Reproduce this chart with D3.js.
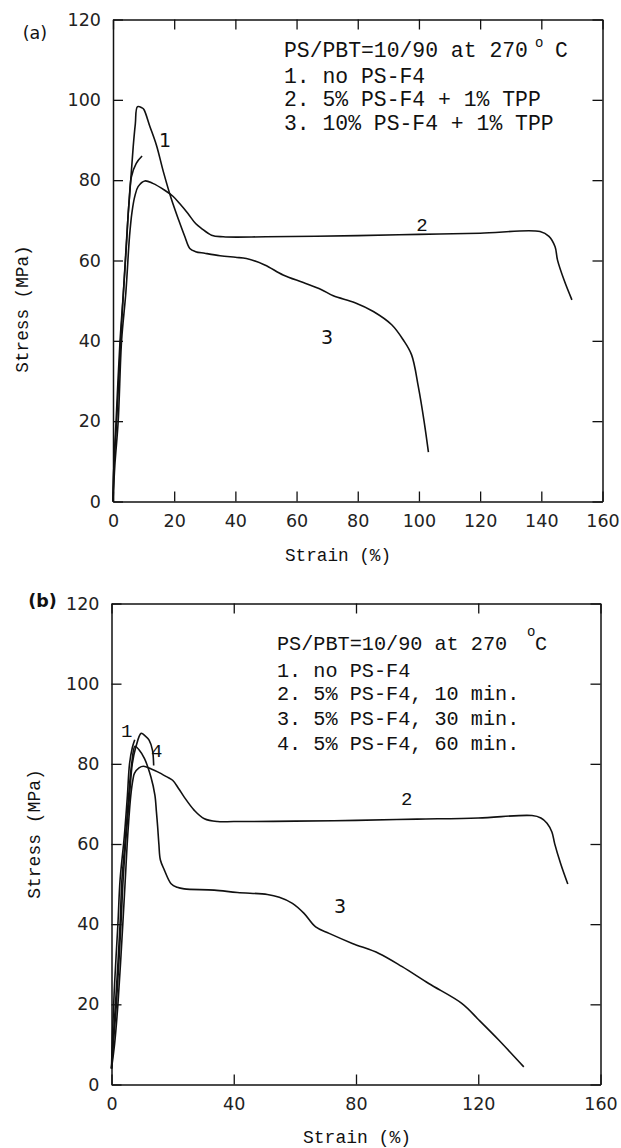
<!DOCTYPE html>
<html>
<head>
<meta charset="utf-8">
<script src="https://cdn.jsdelivr.net/npm/d3@7"></script>
<style>
  html, body { margin: 0; padding: 0; background: #fff; }
  svg { display: block; }
</style>
</head>
<body>
<svg id="chart" width="621" height="1148"></svg>
<script>
// ---------- data (strain %, stress MPa) ----------
const curveA1 = [[0,0],[0.3,9],[1.2,20],[2.5,40],[3.4,52],[4.5,66],[5.3,75],[6.0,80.8],[7.6,84.2],[9.5,86]];
const curveA2 = [[0,0],[0.6,9],[1.7,20],[2.8,40],[4.2,52],[5.4,66],[6.2,72],[7.1,75.9],[8.2,78.4],[10.4,79.8],[13,79.2],[16.9,77.5],[19.6,76],[22,74],[24.5,71.7],[27,69.2],[28.9,68],[32.2,66.3],[36,65.9],[50,65.9],[80,66.2],[100,66.5],[120,66.8],[139.6,67.2],[142.5,66],[144.5,63.4],[145.3,60.1],[147.5,55],[150,50.2]];
const curveA3 = [[0,0],[0.3,9],[1.0,20],[2.3,40],[3.4,52],[4.4,64],[5.0,72],[5.8,80],[6.6,88.3],[7.3,94],[8.0,98.3],[9.5,98],[10.1,97.6],[12,93.5],[14.2,88.7],[16.5,82],[19,75.5],[21.5,70],[23.5,65.9],[25.1,63],[27,62.2],[30,61.8],[35,61.2],[40,60.8],[43.6,60.5],[49.6,58.9],[55.6,56.4],[62.2,54.5],[68,52.8],[72,51.2],[79.1,49.5],[85.1,47.3],[91.1,44],[94.9,40.2],[97.6,36.5],[99.8,28.6],[101.7,19.9],[103.1,12.3]];

const curveB1 = [[0,4],[0.3,12],[1.0,25],[2.1,40],[2.8,51],[4.2,62],[5.2,72],[5.9,80],[6.8,84],[7.6,86]];
const curveB2 = [[0,4],[1.0,10],[2.1,20],[3.7,40],[4.5,51],[5.3,62],[6.3,72],[7.0,76],[7.5,77.6],[9,79],[10.5,79.4],[13,78.7],[15.1,78],[18,76.8],[20,75.9],[22,73.8],[23.8,71.7],[27.1,68.4],[30.4,66.3],[34.7,65.6],[40,65.6],[60,65.7],[80,65.9],[100,66.2],[120,66.5],[137.6,67.1],[140.5,66.5],[142.5,65.2],[144.1,63],[145,60.1],[147,55],[149.3,50]];
const curveB3 = [[0,4],[0.6,12],[1.3,20],[2.8,40],[3.4,51],[4.6,62],[5.6,72],[6.6,80],[7.7,84.4],[9,83.5],[10.8,81.3],[12.9,76.7],[14.2,72.2],[14.7,68],[15.1,64.3],[15.5,60],[16,56],[17.3,53.5],[19.5,50.1],[21.5,49.2],[23.8,48.8],[33.6,48.5],[41.2,47.9],[51,47.4],[54.9,46.7],[59.2,45.2],[63,42.7],[66.8,39.3],[71.2,37.7],[78.8,35.2],[87.5,32.7],[95.1,29.4],[103.8,25.2],[114.7,20.2],[120.2,16.1],[126.7,11.1],[134.9,4.4]];
const curveB4 = [[0,4],[0.8,12],[1.6,20],[3.1,40],[3.8,51],[4.8,62],[5.9,72],[6.8,80],[7.9,84],[9.7,87.6],[11,87],[12.3,85.9],[13.4,83.4],[13.8,79.6]];

// tick values
const yTicks  = [0, 20, 40, 60, 80, 100, 120];
const xTicksA = [0, 20, 40, 60, 80, 100, 120, 140, 160];
const xTicksB = [0, 40, 80, 120, 160];

// curve number labels (text and anchor in data units)
const curveLabelTextA = ["1", "2", "3"];
const curveLabelAtA   = [[17, 90], [101, 68.6], [70, 41]];
const curveLabelTextB = ["1", "4", "2", "3"];
const curveLabelAtB   = [[5.0, 88], [14.8, 83], [96.6, 70.9], [74.8, 44.5]];

// legend text
const legendHeadA = "PS/PBT=10/90 at 270";
const legendA = ["1. no PS-F4", "2. 5% PS-F4 + 1% TPP", "3. 10% PS-F4 + 1% TPP"];
const legendHeadB = "PS/PBT=10/90 at 270";
const legendB = ["1. no PS-F4", "2. 5% PS-F4, 10 min.", "3. 5% PS-F4, 30 min.", "4. 5% PS-F4, 60 min."];

const xTitle = "Strain (%)";
const yTitle = "Stress (MPa)";

// ---------- layout ----------
const SANS = "'DejaVu Sans', sans-serif";
const MONO = "'Liberation Mono', 'DejaVu Sans Mono', monospace";
const INK = "#111";

const panels = [
  {
    tag: "(a)", tagX: 35, tagY: 32.5, tagWeight: 400,
    x0: 113, x1: 602.5, y0: 19.5, y1: 501.5,
    xTicks: xTicksA,
    curves: [curveA1, curveA2, curveA3],
    labelText: curveLabelTextA, labelAt: curveLabelAtA,
    labelFont: [SANS, MONO, SANS],
    head: legendHeadA, lines: legendA,
    legX: 284, legY0: 57, legDy: 24.3, legFs: 21.4,
    degX: 535, degY: 47, cX: 555,
    xTitleX: 338, xTitleY: 555.5,
    yTitleX: 23, yTitleY: 309, titleFs: 17.7
  },
  {
    tag: "(b)", tagX: 42.5, tagY: 600.5, tagWeight: 600,
    x0: 111.5, x1: 600.5, y0: 603.5, y1: 1084.5,
    xTicks: xTicksB,
    curves: [curveB1, curveB2, curveB3, curveB4],
    labelText: curveLabelTextB, labelAt: curveLabelAtB,
    labelFont: [MONO, MONO, MONO, SANS],
    head: legendHeadB, lines: legendB,
    legX: 277, legY0: 650, legDy: 25, legFs: 20.2,
    degX: 527, degY: 636, cX: 535,
    xTitleX: 357, xTitleY: 1138,
    yTitleX: 35, yTitleY: 834, titleFs: 18
  }
];

const svg = d3.select("#chart");
svg.append("rect").attr("width", 621).attr("height", 1148).attr("fill", "#fff");

panels.forEach(p => {
  const x = d3.scaleLinear().domain([0, 160]).range([p.x0, p.x1]);
  const y = d3.scaleLinear().domain([0, 120]).range([p.y1, p.y0]);
  const g = svg.append("g");
  const TL = 10;

  const styleAxis = sel => {
    sel.selectAll(".domain").attr("stroke", INK).attr("stroke-width", 1.5);
    sel.selectAll(".tick line").attr("stroke", INK).attr("stroke-width", 1.3);
    sel.selectAll(".tick text").attr("fill", "#222")
      .style("font-family", SANS).style("font-size", "17.5px");
  };

  g.append("g").attr("transform", `translate(0,${p.y1})`)
    .call(d3.axisBottom(x).tickValues(p.xTicks).tickSizeInner(-TL).tickSizeOuter(0).tickPadding(13.5).tickFormat(d3.format("d")))
    .call(styleAxis);
  g.append("g").attr("transform", `translate(0,${p.y0})`)
    .call(d3.axisTop(x).tickValues(p.xTicks).tickSizeInner(-TL).tickSizeOuter(0).tickFormat(""))
    .call(styleAxis);
  g.append("g").attr("transform", `translate(${p.x0},0)`)
    .call(d3.axisLeft(y).tickValues(yTicks).tickSizeInner(-TL).tickSizeOuter(0).tickPadding(12).tickFormat(d3.format("d")))
    .call(styleAxis);
  g.append("g").attr("transform", `translate(${p.x1},0)`)
    .call(d3.axisRight(y).tickValues(yTicks).tickSizeInner(-TL).tickSizeOuter(0).tickFormat(""))
    .call(styleAxis);
  g.selectAll(".tick text").attr("font-family", null);

  const line = d3.line()
    .x(d => x(d[0])).y(d => y(d[1]))
    .curve(d3.curveCatmullRom.alpha(0.5));

  g.selectAll("path.curve").data(p.curves).enter().append("path")
    .attr("class", "curve")
    .attr("d", line)
    .attr("fill", "none").attr("stroke", INK).attr("stroke-width", 1.6)
    .attr("stroke-linejoin", "round");

  // curve number labels
  p.labelText.forEach((t, i) => {
    g.append("text")
      .attr("x", x(p.labelAt[i][0])).attr("y", y(p.labelAt[i][1]))
      .attr("text-anchor", "middle").attr("dominant-baseline", "central")
      .style("font-family", p.labelFont[i]).style("font-size", "19px")
      .attr("fill", INK).text(t);
  });

  // legend
  const head = g.append("text")
    .attr("x", p.legX).attr("y", p.legY0)
    .style("font-family", MONO).style("font-size", p.legFs + "px")
    .attr("fill", INK);
  head.append("tspan").text(p.head);
  head.append("tspan").attr("x", p.degX).attr("y", p.degY)
    .style("font-size", "14px").text("o");
  head.append("tspan").attr("x", p.cX).attr("y", p.legY0).text("C");

  p.lines.forEach((t, i) => {
    g.append("text")
      .attr("x", p.legX).attr("y", p.legY0 + p.legDy * (i + 1) + (i === 0 ? 1.5 : 0))
      .style("font-family", MONO).style("font-size", p.legFs + "px")
      .attr("fill", INK).attr("xml:space", "preserve").text(t);
  });

  // axis titles
  g.append("text")
    .attr("x", p.xTitleX).attr("y", p.xTitleY)
    .attr("text-anchor", "middle").attr("dominant-baseline", "central")
    .style("font-family", MONO).style("font-size", p.titleFs + "px")
    .attr("fill", INK).text(xTitle);
  g.append("text")
    .attr("transform", `translate(${p.yTitleX},${p.yTitleY}) rotate(-90)`)
    .attr("text-anchor", "middle").attr("dominant-baseline", "central")
    .style("font-family", MONO).style("font-size", p.titleFs + "px")
    .attr("fill", INK).text(yTitle);

  // panel tag
  g.append("text")
    .attr("x", p.tagX).attr("y", p.tagY)
    .attr("text-anchor", "middle").attr("dominant-baseline", "central")
    .style("font-family", SANS).style("font-size", "17.5px")
    .style("font-weight", p.tagWeight)
    .attr("fill", INK).text(p.tag);
});
</script>
</body>
</html>
